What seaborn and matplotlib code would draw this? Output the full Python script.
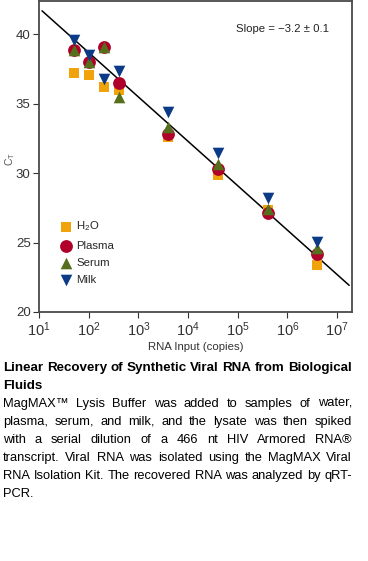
import numpy as np
import pandas as pd
import matplotlib
matplotlib.use("Agg")
import matplotlib.pyplot as plt
import seaborn as sns

# RNA input copies and Ct values for each sample type
copies = [50, 100, 200, 400, 4000, 40000, 400000, 4000000]
ct_h2o = [37.2, 37.05, 36.2, 36.0, 32.6, 29.9, 27.35, 23.4]
ct_plasma = [38.9, 38.0, 39.1, 36.5, 32.8, 30.3, 27.1, 24.2]
ct_serum = [38.9, 38.0, 39.1, 35.5, 33.3, 30.65, 27.4, 24.6]
ct_milk = [39.6, 38.5, 36.8, 37.4, 34.45, 31.45, 28.2, 25.05]

series_names = ["H$_\\mathregular{2}$O", "Plasma", "Serum", "Milk"]
series_values = [ct_h2o, ct_plasma, ct_serum, ct_milk]
colors = ["#F0A30A", "#B0002A", "#566F1C", "#0B3A87"]
markers = ["s", "o", "^", "v"]
sizes = [55, 85, 70, 70]

# fitted line: Ct = intercept + slope * log10(copies)
fit_slope = -3.2
fit_intercept = 45.1
fit_range = [11.5, 1.75e7]

xticks = [1e1, 1e2, 1e3, 1e4, 1e5, 1e6, 1e7]
yticks = [20, 25, 30, 35, 40]

sns.set_style("ticks")
plt.rcParams["font.family"] = ["Liberation Sans", "DejaVu Sans"]
plt.rcParams["mathtext.fontset"] = "stix"

fig = plt.figure(figsize=(3.68, 5.61), dpi=100)
ax = fig.add_axes([39 / 368, 1 - 312 / 561, 313 / 368, 311.5 / 561])

df_line = pd.DataFrame({"x": fit_range})
df_line["y"] = fit_intercept + fit_slope * np.log10(df_line["x"])
sns.lineplot(data=df_line, x="x", y="y", color="black", linewidth=1.1, ax=ax, zorder=1)

for name, vals, c, m, s in zip(series_names, series_values, colors, markers, sizes):
    d = pd.DataFrame({"copies": copies, "ct": vals})
    sns.scatterplot(data=d, x="copies", y="ct", color=c, marker=m, s=s,
                    linewidth=0, label=name, ax=ax, zorder=3)

ax.set_xscale("log")
ax.set_xlim(10, 10 ** 7.3)
ax.set_ylim(20, 42.45)
ax.set_xticks(xticks)
ax.set_yticks(yticks)
ax.xaxis.set_minor_locator(matplotlib.ticker.NullLocator())
ax.tick_params(axis="both", direction="out", length=4, width=0.8, color="#333333",
               labelsize=9.5, pad=2, labelcolor="#333333")
ax.tick_params(axis="x", labelsize=10.5)
for sp in ax.spines.values():
    sp.set_color("#4a4a4a")
    sp.set_linewidth(1.3)
    sp.set_visible(True)

ax.set_xlabel("RNA Input (copies)", fontsize=8.2, labelpad=2, color="#333333")
ax.set_ylabel("C$_\\mathregular{T}$", fontsize=7.5, color="#555555")
ax.yaxis.set_label_coords(-0.07, 0.49)
ax.text(0.927, 0.91, "Slope = \u22123.2 \u00b1 0.1", transform=ax.transAxes,
        ha="right", va="center", fontsize=8.2, color="#222222")

leg = ax.legend(loc="upper left", bbox_to_anchor=(0.045, 0.31), frameon=False,
                fontsize=8.2, handletextpad=0.25, labelspacing=0.62, borderaxespad=0,
                handlelength=1.4)

# caption below the chart, justified like the source page
W, H = 368, 561
x_left, x_right = 3, 352
title_lines = ["Linear Recovery of Synthetic Viral RNA from Biological", "Fluids"]
body_lines = [
    "MagMAX\u2122 Lysis Buffer was added to samples of water,",
    "plasma, serum, and milk, and the lysate was then spiked",
    "with a serial dilution of a 466 nt HIV Armored RNA\u00ae",
    "transcript. Viral RNA was isolated using the MagMAX Viral",
    "RNA Isolation Kit. The recovered RNA was analyzed by qRT-",
    "PCR.",
]
renderer = fig.canvas.get_renderer()
cap_font = ["Liberation Sans", "DejaVu Sans"]


def word_widths(words, size, weight):
    out = []
    for w in words:
        t = fig.text(0, 0, w, fontsize=size, weight=weight, family=cap_font)
        out.append(t.get_window_extent(renderer).width)
        t.remove()
    return out


def fit_size(lines, weight, start=10.6):
    # largest size at which every justified line keeps a normal word gap
    size = start
    while size > 7:
        ok = True
        for line in lines:
            words = line.split(" ")
            ws = word_widths(words, size, weight)
            gap = (x_right - x_left - sum(ws)) / max(len(words) - 1, 1)
            if gap < 0.25 * size * 100 / 72:
                ok = False
                break
        if ok:
            return size
        size -= 0.1
    return size


def put_line(text, y, size, weight, justify):
    words = text.split(" ")
    if not justify:
        fig.text(x_left / W, 1 - y / H, text, fontsize=size, weight=weight,
                 family=cap_font, va="center", ha="left", color="black")
        return
    objs = [fig.text(0, 1 - y / H, w, fontsize=size, weight=weight,
                     family=cap_font, va="center", ha="left", color="black") for w in words]
    widths = [o.get_window_extent(renderer).width for o in objs]
    gap = (x_right - x_left - sum(widths)) / max(len(words) - 1, 1)
    x = x_left
    for o, w in zip(objs, widths):
        o.set_x(x / W)
        x += w + gap


title_size = fit_size(title_lines[:1], "bold")
body_size = fit_size(body_lines[:-1], "normal")

put_line(title_lines[0], 368, title_size, "bold", True)
put_line(title_lines[1], 386, title_size, "bold", False)
y = 404
for i, line in enumerate(body_lines):
    put_line(line, y, body_size, "normal", i < len(body_lines) - 1)
    y += 18

fig.savefig("out.png", dpi=100)
